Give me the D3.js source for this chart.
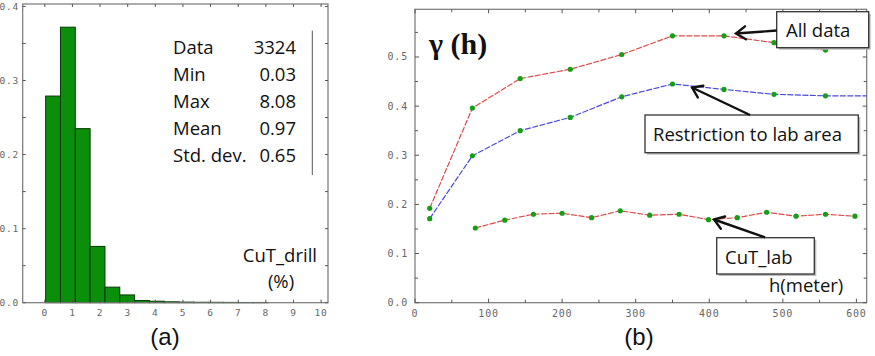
<!DOCTYPE html>
<html>
<head>
<meta charset="utf-8">
<script src="https://cdn.jsdelivr.net/npm/d3@7"></script>
<style>
body{margin:0;background:#fff;}
svg{display:block;}
.tk{font-family:"DejaVu Sans Mono",monospace;font-size:9.5px;fill:#666;letter-spacing:0.8px;}
.cal{font-family:"Open Sans",Lato,sans-serif;fill:#111;font-size:18.5px;}
</style>
</head>
<body>
<svg id="fig" width="875" height="356"></svg>
<script>
// ---- data (a): histogram of CuT_drill
var histMin = 0.03, histMax = 8.08;
var histFreq = [0.279, 0.372, 0.235, 0.076, 0.021, 0.0105, 0.003, 0.002, 0.0012, 0.0008, 0.0006, 0.0005, 0.0004, 0.0003, 0.0003];
var statLabels = ["Data", "Min", "Max", "Mean", "Std. dev."];
var statValues = ["3324", "0.03", "8.08", "0.97", "0.65"];
var histXTicks = [0, 1, 2, 3, 4, 5, 6, 7, 8, 9, 10];
var histYTicks = [0, 0.1, 0.2, 0.3, 0.4];

// ---- data (b): variograms
var lagAll = [20, 78, 143, 211, 281, 350, 420, 488, 558];
var gamAll = [0.192, 0.396, 0.456, 0.475, 0.505, 0.543, 0.543, 0.529, 0.514];
var lagRestr = [20, 78, 143, 211, 281, 350, 420, 488, 558, 630];
var gamRestr = [0.171, 0.299, 0.350, 0.377, 0.419, 0.445, 0.434, 0.424, 0.421, 0.421];
var lagLab = [82, 122, 161, 200, 240, 279, 319, 359, 399, 438, 478, 518, 558, 598];
var gamLab = [0.152, 0.168, 0.180, 0.182, 0.173, 0.187, 0.178, 0.180, 0.169, 0.173, 0.184, 0.176, 0.180, 0.176];
var vgXTicks = [0, 100, 200, 300, 400, 500, 600];
var vgYTicks = [0, 0.1, 0.2, 0.3, 0.4, 0.5];

var svg = d3.select("#fig");
var fmt1 = d3.format(".1f");

var defs = svg.append("defs");
defs.append("marker").attr("id", "arr")
	.attr("viewBox", "0 -8 14 16").attr("refX", 12.5).attr("refY", 0)
	.attr("markerWidth", 14).attr("markerHeight", 16).attr("markerUnits", "userSpaceOnUse")
	.attr("orient", "auto")
	.append("path").attr("d", "M3,-6.5L12.5,0L3,6.5")
	.style("fill", "none").style("stroke", "#111").style("stroke-width", 2.4)
	.style("stroke-linecap", "round").style("stroke-linejoin", "miter");

// frame with inward ticks on all four sides
function frame(g, x, y, xMajor, xMinor, yMajor, yMinor, lenMaj, lenMin){
	var x0 = x.range()[0], x1 = x.range()[1], y0 = y.range()[0], y1 = y.range()[1];
	g.append("rect").attr("x", x0).attr("y", y1).attr("width", x1 - x0).attr("height", y0 - y1)
		.style("fill", "none").style("stroke", "#777").style("stroke-width", 1.2);
	var tk = g.append("g").style("stroke", "#555").style("stroke-width", 1);
	xMinor.forEach(function(v){
		var L = xMajor.indexOf(v) >= 0 ? lenMaj : lenMin;
		tk.append("line").attr("x1", x(v)).attr("x2", x(v)).attr("y1", y0).attr("y2", y0 - L);
		tk.append("line").attr("x1", x(v)).attr("x2", x(v)).attr("y1", y1).attr("y2", y1 + L);
	});
	yMinor.forEach(function(v){
		var L = yMajor.some(function(m){return Math.abs(m - v) < 1e-9;}) ? lenMaj : lenMin;
		tk.append("line").attr("y1", y(v)).attr("y2", y(v)).attr("x1", x0).attr("x2", x0 + L);
		tk.append("line").attr("y1", y(v)).attr("y2", y(v)).attr("x1", x1).attr("x2", x1 - L);
	});
}

// ================= (a) histogram =================
var xa = d3.scaleLinear().domain([-0.8, 10.25]).range([22.7, 328]);
var ya = d3.scaleLinear().domain([0, 0.4033]).range([302.7, 4]);
var ga = svg.append("g");
var binW = (histMax - histMin) / histFreq.length;

ga.selectAll("rect.bar").data(histFreq).enter().append("rect").attr("class", "bar")
	.attr("x", function(d, i){return xa(histMin + i * binW);})
	.attr("width", xa(binW) - xa(0))
	.attr("y", function(d){return ya(d);})
	.attr("height", function(d){return ya(0) - ya(d);})
	.style("fill", "#0b8f0b").style("stroke", "#063806").style("stroke-width", 1);

frame(ga, xa, ya, histXTicks, histXTicks, histYTicks, d3.range(0, 0.41, 0.05), 3, 3);

ga.selectAll("text.yt").data(histYTicks).enter().append("text").attr("class", "tk")
	.attr("x", 19).attr("y", function(d){return ya(d) + 3.5;})
	.attr("text-anchor", "end").text(fmt1);
ga.selectAll("text.xt").data(histXTicks).enter().append("text").attr("class", "tk")
	.attr("x", function(d){return xa(d);}).attr("y", 316)
	.attr("text-anchor", "middle").text(function(d){return d;});

statLabels.forEach(function(s, i){
	ga.append("text").attr("class", "cal").attr("x", 173).attr("y", 54 + i * 27).text(s);
	ga.append("text").attr("class", "cal").attr("x", 296).attr("y", 54 + i * 27)
		.attr("text-anchor", "end").text(statValues[i]);
});
ga.append("line").attr("x1", 312.3).attr("x2", 312.3).attr("y1", 30.7).attr("y2", 175)
	.style("stroke", "#555").style("stroke-width", 1);
ga.append("text").attr("class", "cal").attr("x", 317).attr("y", 262)
	.attr("text-anchor", "end").text("CuT_drill");
ga.append("text").attr("class", "cal").attr("x", 281).attr("y", 288)
	.attr("text-anchor", "middle").text("(%)");

// ================= (b) variograms =================
var xb = d3.scaleLinear().domain([0, 614]).range([415, 866.7]);
var yb = d3.scaleLinear().domain([0, 0.597]).range([302.7, 9.3]);
var gb = svg.append("g");

defs.append("clipPath").attr("id", "clipb").append("rect")
	.attr("x", 415).attr("y", 9.3).attr("width", 451.7).attr("height", 293.4);

frame(gb, xb, yb, vgXTicks, d3.range(0, 601, 50), vgYTicks, d3.range(0, 0.56, 0.05), 4, 3);

gb.selectAll("text.yt").data(vgYTicks).enter().append("text").attr("class", "tk")
	.attr("x", 408).attr("y", function(d){return yb(d) + 3.5;})
	.attr("text-anchor", "end").style("font-size", "10px").text(fmt1);
gb.selectAll("text.xt").data(vgXTicks).enter().append("text").attr("class", "tk")
	.attr("x", function(d){return xb(d);}).attr("y", 316.5)
	.attr("text-anchor", "middle").style("font-size", "10px").text(function(d){return d;});

var plot = gb.append("g").attr("clip-path", "url(#clipb)");
var series = [
	{h: lagAll, g: gamAll, c: "#e04848"},
	{h: lagRestr, g: gamRestr, c: "#4a4ae0"},
	{h: lagLab, g: gamLab, c: "#e04848"}
];
series.forEach(function(s){
	var pts = s.h.map(function(h, i){return [h, s.g[i]];});
	plot.append("path").datum(pts)
		.attr("d", d3.line().x(function(d){return xb(d[0]);}).y(function(d){return yb(d[1]);}))
		.style("fill", "none").style("stroke", s.c).style("stroke-width", 1.2)
		.style("stroke-dasharray", "6,1.5");
	plot.selectAll(null).data(pts).enter().append("circle")
		.attr("cx", function(d){return xb(d[0]);}).attr("cy", function(d){return yb(d[1]);})
		.attr("r", 2.6).style("fill", "#14a014");
});

gb.append("text").attr("x", 429).attr("y", 54)
	.style("font-family", "'Liberation Serif',serif").style("font-size", "30px")
	.style("font-weight", "bold").style("fill", "#111").text("γ (h)");

// annotation boxes with arrows
var notes = [
	{t: "All data", x: 776.7, y: 11.7, w: 92, h: 36, tx: 786, ty: 37, from: [776.7, 30.5], to: [736, 33.5]},
	{t: "Restriction to lab area", x: 645, y: 115, w: 213.3, h: 37.7, tx: 653, ty: 141, from: [750, 115], to: [692, 87.5]},
	{t: "CuT_lab", x: 716.7, y: 237.7, w: 97.6, h: 36.3, tx: 725, ty: 263.5, from: [765, 237.3], to: [714, 219.5]}
];
notes.forEach(function(n){
	gb.append("rect").attr("x", n.x + 2).attr("y", n.y + 2).attr("width", n.w).attr("height", n.h)
		.style("fill", "#bbb");
	gb.append("rect").attr("x", n.x).attr("y", n.y).attr("width", n.w).attr("height", n.h)
		.style("fill", "#fff").style("stroke", "#333").style("stroke-width", 1.3);
	gb.append("text").attr("class", "cal").attr("x", n.tx).attr("y", n.ty).text(n.t);
	gb.append("line").attr("x1", n.from[0]).attr("y1", n.from[1])
		.attr("x2", n.to[0]).attr("y2", n.to[1])
		.attr("marker-end", "url(#arr)")
		.style("stroke", "#111").style("stroke-width", 2.4);
});
gb.append("text").attr("class", "cal").attr("x", 769).attr("y", 291.5).text("h(meter)");

// panel captions
svg.append("text").attr("x", 165).attr("y", 345).attr("text-anchor", "middle")
	.style("font-family", "'Liberation Sans',Arial,sans-serif").style("font-size", "24px")
	.style("fill", "#111").text("(a)");
svg.append("text").attr("x", 639).attr("y", 345).attr("text-anchor", "middle")
	.style("font-family", "'Liberation Sans',Arial,sans-serif").style("font-size", "24px")
	.style("fill", "#111").text("(b)");
</script>
</body>
</html>
